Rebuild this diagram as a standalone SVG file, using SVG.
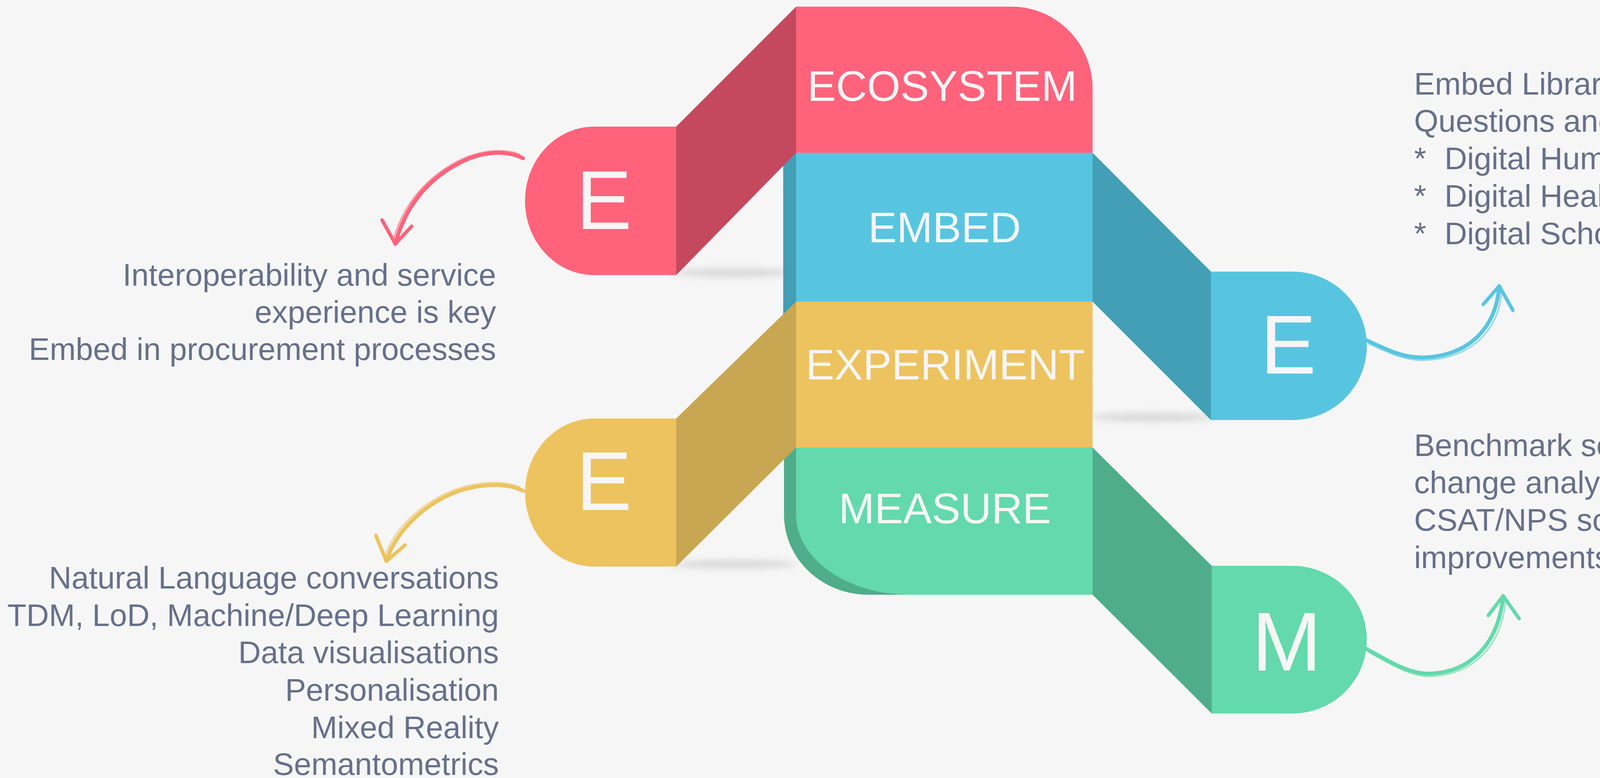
<svg xmlns="http://www.w3.org/2000/svg" width="4911" height="1991" viewBox="0 0 4911 1991">
<defs>
<style>
.lbl{font-family:"Liberation Sans",Arial,sans-serif;font-size:110px;fill:#F6F6F6;text-anchor:middle}
.big{font-family:"Liberation Sans",Arial,sans-serif;font-size:214px;fill:#F6F6F6;text-anchor:middle}
.desc{font-family:"Liberation Sans",Arial,sans-serif;font-size:80px;fill:#67708A}
.r{text-anchor:end}
.arrow{fill:none;stroke-linecap:round;stroke-linejoin:round}
.shadow{fill:#000;opacity:0.13}
</style>
<filter id="blur" x="-50%" y="-300%" width="200%" height="700%"><feGaussianBlur stdDeviation="9"/></filter>
</defs>
<rect x="0" y="0" width="4911" height="1991" fill="#F6F6F6"/>

<g id="shadows" filter="url(#blur)">
<ellipse class="shadow" cx="1880" cy="698" rx="160" ry="10"/>
<ellipse class="shadow" cx="1880" cy="1444" rx="160" ry="10"/>
<ellipse class="shadow" cx="2950" cy="1068" rx="160" ry="10"/>
</g>

<g id="side-faces">
<rect x="2005" y="391" width="34" height="760" fill="#429FB6"/>
<path d="M2007,1150 H2700 V1522 H2223 A216,205 0 0 1 2007,1317 Z" fill="#4FAD8C"/>
</g>

<g id="ecosystem">
<path d="M2038,17 H2590 A207,210 0 0 1 2797,227 V391 H2038 Z" fill="#FF637C"/>
<text class="lbl" x="2412" y="258">ECOSYSTEM</text>
</g>
<g id="embed">
<rect x="2038" y="391" width="759" height="381" fill="#58C5E0"/>
<text class="lbl" x="2418" y="620">EMBED</text>
</g>
<g id="experiment">
<rect x="2038" y="772" width="759" height="373" fill="#EDC35F"/>
<text class="lbl" x="2420" y="971">EXPERIMENT</text>
</g>
<g id="measure">
<path d="M2038,1145 H2797 V1522 H2330 A292,205 0 0 1 2038,1317 Z" fill="#63D9AD"/>
<text class="lbl" x="2419" y="1339">MEASURE</text>
</g>

<g id="node-e-ecosystem">
<polygon points="1731,324 2038,17 2038,391 1731,704" fill="#C4495F"/>
<path d="M1731,324 V704 H1521 A177,190 0 0 1 1344,514 A177,190 0 0 1 1521,324 Z" fill="#FF637C"/>
<text class="big" x="1546" y="586">E</text>
</g>
<g id="node-e-experiment">
<polygon points="1731,1071 2038,772 2038,1145 1731,1450" fill="#C9A652"/>
<path d="M1731,1071 V1450 H1521 A177,190 0 0 1 1344,1260 A177,190 0 0 1 1521,1071 Z" fill="#EDC35F"/>
<text class="big" x="1546" y="1305">E</text>
</g>
<g id="node-e-embed">
<polygon points="2797,391 3100,695 3100,1075 2797,772" fill="#429FB6"/>
<path d="M3100,695 H3309 A190,190 0 0 1 3499,885 A190,190 0 0 1 3309,1075 H3100 Z" fill="#58C5E0"/>
<text class="big" x="3298" y="956">E</text>
</g>
<g id="node-m-measure">
<polygon points="2797,1145 3102,1448 3102,1826 2797,1522" fill="#4FAD8C"/>
<path d="M3102,1448 H3309 A190,189 0 0 1 3499,1637 A190,189 0 0 1 3309,1826 H3102 Z" fill="#63D9AD"/>
<text class="big" x="3294" y="1716">M</text>
</g>

<g id="text-ecosystem">
<text class="desc r" x="1270" y="731">Interoperability and service</text>
<text class="desc r" x="1270" y="826">experience is key</text>
<text class="desc r" x="1270" y="921">Embed in procurement processes</text>
</g>
<g id="text-experiment">
<text class="desc r" x="1277" y="1506">Natural Language conversations</text>
<text class="desc r" x="1277" y="1602">TDM, LoD, Machine/Deep Learning</text>
<text class="desc r" x="1277" y="1697">Data visualisations</text>
<text class="desc r" x="1277" y="1793">Personalisation</text>
<text class="desc r" x="1277" y="1889">Mixed Reality</text>
<text class="desc r" x="1277" y="1983">Semantometrics</text>
</g>
<g id="text-embed">
<text class="desc" x="3620" y="242">Embed Library in Research</text>
<text class="desc" x="3620" y="337">Questions and Processes</text>
<text class="desc" y="433"><tspan x="3620">*</tspan><tspan x="3698">Digital Humanities</tspan></text>
<text class="desc" y="529"><tspan x="3620">*</tspan><tspan x="3698">Digital Health</tspan></text>
<text class="desc" y="625"><tspan x="3620">*</tspan><tspan x="3698">Digital Scholarship</tspan></text>
</g>
<g id="text-measure">
<text class="desc" x="3620" y="1167">Benchmark services, analyse data,</text>
<text class="desc" x="3620" y="1262">change analytics into intelligence</text>
<text class="desc" x="3620" y="1358">CSAT/NPS scores for service</text>
<text class="desc" x="3620" y="1454">improvements</text>
</g>

<g id="connectors">
<g stroke="#FF637C">
<path class="arrow" stroke-width="10" d="M1339,405 C1300,385 1240,385 1180,415 C1100,455 1040,520 1012,624"/>
<path class="arrow" stroke-width="4" opacity="0.6" d="M1330,395 C1290,380 1235,382 1176,410 C1098,450 1036,515 1008,610"/>
<path class="arrow" stroke-width="9" d="M978,563 L1012,624 L1054,579"/>
</g>
<g stroke="#EDC35F">
<path class="arrow" stroke-width="10" d="M1339,1256 C1300,1236 1230,1235 1160,1262 C1070,1300 1010,1370 989,1436"/>
<path class="arrow" stroke-width="4" opacity="0.6" d="M1330,1246 C1292,1230 1226,1230 1156,1256 C1066,1294 1006,1362 986,1422"/>
<path class="arrow" stroke-width="9" d="M962,1370 L989,1436 L1037,1395"/>
</g>
<g stroke="#58C5E0">
<path class="arrow" stroke-width="10" d="M3499,871 C3550,895 3590,915 3640,915 C3760,912 3830,840 3838,732"/>
<path class="arrow" stroke-width="4" opacity="0.6" d="M3505,880 C3556,903 3596,923 3644,922 C3766,918 3838,846 3844,745"/>
<path class="arrow" stroke-width="9" d="M3797,779 L3838,732 L3873,794"/>
</g>
<g stroke="#63D9AD">
<path class="arrow" stroke-width="10" d="M3499,1661 C3560,1695 3600,1720 3650,1724 C3770,1725 3838,1640 3848,1525"/>
<path class="arrow" stroke-width="4" opacity="0.6" d="M3505,1670 C3566,1703 3606,1728 3654,1731 C3776,1731 3845,1646 3854,1540"/>
<path class="arrow" stroke-width="9" d="M3810,1575 L3848,1525 L3889,1583"/>
</g>
</g>
</svg>
